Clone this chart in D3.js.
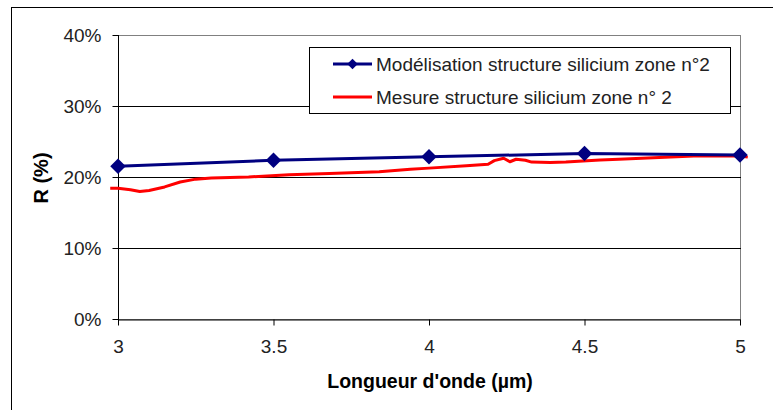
<!DOCTYPE html>
<html>
<head>
<meta charset="utf-8">
<script src="https://cdn.jsdelivr.net/npm/d3@7/dist/d3.min.js"></script>
<style>
  html, body { margin: 0; padding: 0; background: #fff; }
  svg { display: block; font-family: Arial, "Liberation Sans", sans-serif; }
</style>
</head>
<body>
<svg id="chart" width="773" height="410"></svg>
<script>
// ---- Data ----
const modelLabel = "Modélisation structure silicium zone n°2";
const measLabel = "Mesure structure silicium zone n° 2";
const modelX = [3, 3.5, 4, 4.5, 5];
const modelY = [21.5, 22.35, 22.85, 23.3, 23.1];
const measX = [2.975, 3.00, 3.04, 3.07, 3.10, 3.15, 3.20, 3.25, 3.30, 3.42, 3.55, 3.68, 3.84, 3.94, 4.00, 4.12, 4.19, 4.21, 4.24, 4.26, 4.28, 4.31, 4.33, 4.39, 4.44, 4.55, 4.61, 4.74, 4.87, 4.94, 5.00, 5.025];
const measY = [18.4, 18.4, 18.2, 17.95, 18.1, 18.6, 19.3, 19.7, 19.85, 20.0, 20.3, 20.5, 20.75, 21.1, 21.25, 21.6, 21.8, 22.3, 22.65, 22.15, 22.5, 22.35, 22.1, 22.05, 22.1, 22.4, 22.5, 22.75, 23.0, 22.95, 22.95, 22.8];
const xTicks = [3, 3.5, 4, 4.5, 5];
const yTicks = [0, 10, 20, 30, 40];
const xTitle = "Longueur d'onde (µm)";
const yTitle = "R (%)";

(function () {
// ---- Layout ----
const svg = d3.select("#chart");
const pL = 118, pR = 740, pT = 35, pB = 319;
const x = d3.scaleLinear().domain([3, 5]).range([pL, pR]);
const y = d3.scaleLinear().domain([0, 40]).range([pB, pT]);

// outer frame
svg.append("rect").attr("x", 11.5).attr("y", 7.5).attr("width", 800).attr("height", 500)
  .attr("fill", "#fff").attr("stroke", "#000").attr("stroke-width", 1);

// plot area
svg.append("rect").attr("x", pL + 0.5).attr("y", pT + 0.5)
  .attr("width", pR - pL).attr("height", pB - pT)
  .attr("fill", "#fff").attr("stroke", "#808080").attr("stroke-width", 1);

// gridlines
svg.append("g").selectAll("line").data(yTicks.filter(d => d > 0 && d < 40)).join("line")
  .attr("x1", pL).attr("x2", pR + 1)
  .attr("y1", d => Math.round(y(d)) + 0.5).attr("y2", d => Math.round(y(d)) + 0.5)
  .attr("stroke", "#000").attr("stroke-width", 1);

// axes
const yAxis = d3.axisLeft(y).tickValues(yTicks).tickFormat(d => d + "%").tickSize(6).tickSizeOuter(0).tickPadding(11);
const gy = svg.append("g").attr("transform", `translate(${pL + 0.5},0)`).call(yAxis);
const xAxis = d3.axisBottom(x).tickValues(xTicks).tickFormat(d3.format("")).tickSize(6).tickSizeOuter(0).tickPadding(14);
const gx = svg.append("g").attr("transform", `translate(0,${pB + 0.5})`).call(xAxis);
[gx, gy].forEach(g => {
  g.select(".domain").attr("stroke", "#000");
  g.selectAll(".tick line").attr("stroke", "#000");
  g.selectAll("text").attr("font-size", 19).attr("fill", "#222")
    .attr("font-family", "Arial, 'Liberation Sans', sans-serif");
});
gy.select(".domain").attr("d", `M0,${pT}V${pB + 6}`);

// axis titles
svg.append("text").attr("x", 430).attr("y", 388).attr("text-anchor", "middle")
  .attr("font-size", 19.5).attr("font-weight", "bold").text(xTitle);
svg.append("text").attr("transform", `translate(48,178) rotate(-90)`).attr("text-anchor", "middle")
  .attr("font-size", 20).attr("font-weight", "bold").text(yTitle);

// series
const line = d3.line().x(d => x(d[0])).y(d => y(d[1]));
const meas = measX.map((v, i) => [v, measY[i]]);
const model = modelX.map((v, i) => [v, modelY[i]]);

svg.append("path").datum(meas).attr("d", line)
  .attr("fill", "none").attr("stroke", "#ff0000").attr("stroke-width", 3).attr("stroke-linejoin", "round");
svg.append("path").datum(model).attr("d", line)
  .attr("fill", "none").attr("stroke", "#000080").attr("stroke-width", 3);
const diamond = d3.symbol().type(d3.symbolSquare).size(120);
svg.append("g").selectAll("path").data(model).join("path")
  .attr("d", diamond())
  .attr("transform", d => `translate(${x(d[0])},${y(d[1])}) rotate(45)`)
  .attr("fill", "#000080");

// legend
const lg = svg.append("g");
lg.append("rect").attr("x", 309.5).attr("y", 47.5).attr("width", 421).attr("height", 66)
  .attr("fill", "#fff").attr("stroke", "#000").attr("stroke-width", 1);
lg.append("line").attr("x1", 333).attr("x2", 372).attr("y1", 64).attr("y2", 64)
  .attr("stroke", "#000080").attr("stroke-width", 3);
lg.append("path").attr("d", d3.symbol().type(d3.symbolSquare).size(55)())
  .attr("transform", "translate(352.5,64) rotate(45)").attr("fill", "#000080");
lg.append("line").attr("x1", 333).attr("x2", 372).attr("y1", 97).attr("y2", 97)
  .attr("stroke", "#ff0000").attr("stroke-width", 3);
lg.append("text").attr("x", 376).attr("y", 64).attr("dy", "0.35em").attr("font-size", 19)
  .attr("fill", "#222").text(modelLabel);
lg.append("text").attr("x", 376).attr("y", 97).attr("dy", "0.35em").attr("font-size", 19)
  .attr("fill", "#222").text(measLabel);
})();
</script>
</body>
</html>
